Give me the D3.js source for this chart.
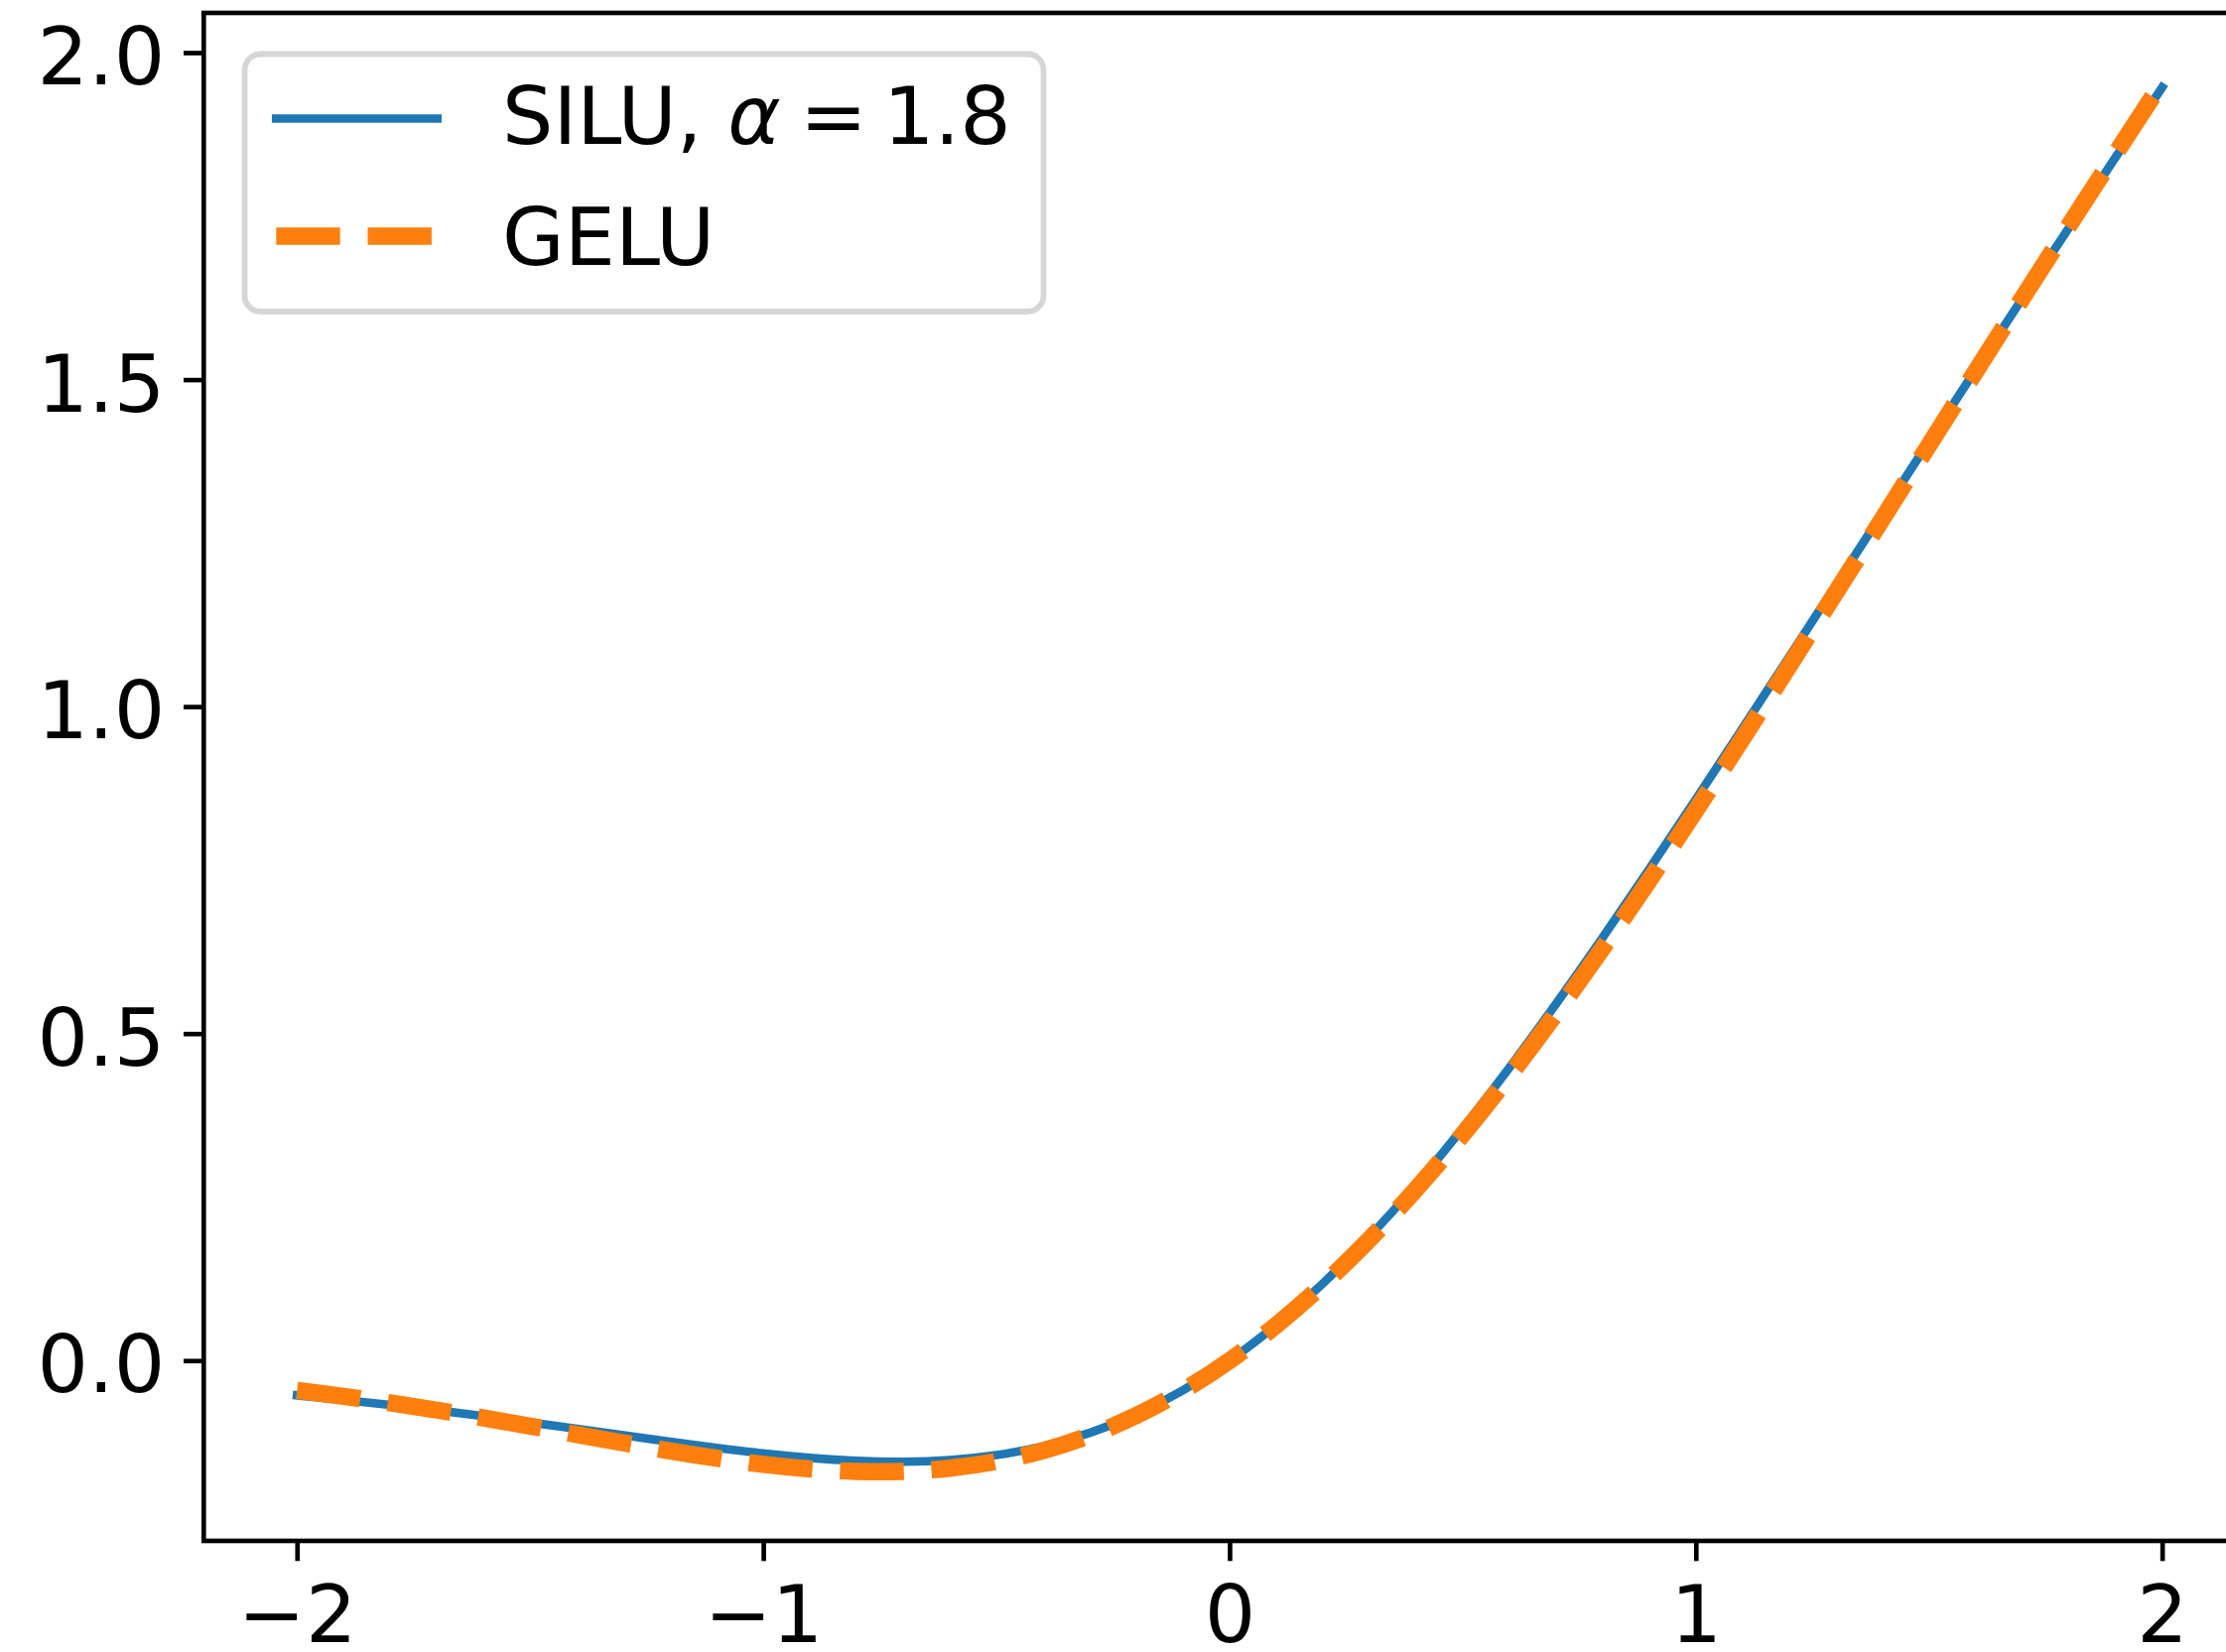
<!DOCTYPE html>
<html>
<head>
<meta charset="utf-8">
<script src="https://cdn.jsdelivr.net/npm/d3@7"></script>
<style>
  html, body { margin: 0; padding: 0; background: #ffffff; overflow: hidden; }
  svg { display: block; }
  text { font-family: "DejaVu Sans", sans-serif; }
</style>
</head>
<body>
<svg id="chart"></svg>
<script>
// Sample grid on [-2, 2]
const xs = [
  -2.0, -1.9, -1.8, -1.7, -1.6, -1.5, -1.4, -1.3, -1.2, -1.1,
  -1.0, -0.9, -0.8, -0.7, -0.6, -0.5, -0.4, -0.3, -0.2, -0.1,
   0.0,  0.1,  0.2,  0.3,  0.4,  0.5,  0.6,  0.7,  0.8,  0.9,
   1.0,  1.1,  1.2,  1.3,  1.4,  1.5,  1.6,  1.7,  1.8,  1.9, 2.0
];

// SiLU with alpha = 1.8
const siluValues = [
  -0.0532, -0.0602, -0.0678, -0.0761, -0.0850, -0.0945, -0.1043, -0.1142, -0.1241, -0.1334,
  -0.1419, -0.1487, -0.1532, -0.1547, -0.1521, -0.1445, -0.1310, -0.1105, -0.0822, -0.0455,
   0.0000,  0.0545,  0.1178,  0.1895,  0.2690,  0.3555,  0.4479,  0.5453,  0.6468,  0.7513,
   0.8581,  0.9666,  1.0759,  1.1858,  1.2957,  1.4055,  1.5150,  1.6239,  1.7322,  1.8398, 1.9468
];

// GELU
const geluValues = [
  -0.0455, -0.0546, -0.0647, -0.0758, -0.0877, -0.1002, -0.1131, -0.1258, -0.1381, -0.1492,
  -0.1587, -0.1657, -0.1695, -0.1694, -0.1646, -0.1543, -0.1378, -0.1146, -0.0841, -0.0460,
   0.0000,  0.0540,  0.1159,  0.1854,  0.2622,  0.3457,  0.4354,  0.5306,  0.6305,  0.7343,
   0.8413,  0.9508,  1.0619,  1.1742,  1.2869,  1.3998,  1.5123,  1.6242,  1.7353,  1.8454, 1.9545
];

const xTickValues = [-2, -1, 0, 1, 2];
const yTickValues = [0.0, 0.5, 1.0, 1.5, 2.0];

const siluLabel = { name: "SILU, ", symbol: "α", relation: "=", value: "1.8" };
const geluLabel = "GELU";

// ---- layout ----
const W = 2243, H = 1665;
const plot = { left: 205.3, right: 2272.6, top: 13, bottom: 1553 };
const FONT = 81;
const PT = 5.8;                      // pixels per point
const COLORS = { silu: "#1f77b4", gelu: "#ff7f0e" };

const svg = d3.select("#chart").attr("width", W).attr("height", H);
svg.append("rect").attr("width", W).attr("height", H).attr("fill", "#ffffff");

// scales with 5% margins around the data
function padded(ext) {
  const m = (ext[1] - ext[0]) * 0.05;
  return [ext[0] - m, ext[1] + m];
}
const x = d3.scaleLinear()
  .domain(padded(d3.extent(xs)))
  .range([plot.left, plot.right]);
const y = d3.scaleLinear()
  .domain(padded(d3.extent(siluValues.concat(geluValues))))
  .range([plot.bottom, plot.top]);

// clip for the curves
svg.append("defs").append("clipPath").attr("id", "plot-clip")
  .append("rect")
  .attr("x", plot.left).attr("y", plot.top)
  .attr("width", plot.right - plot.left).attr("height", plot.bottom - plot.top);

const line = d3.line()
  .x(d => x(d[0]))
  .y(d => y(d[1]))
  .curve(d3.curveNatural);

const curves = svg.append("g").attr("clip-path", "url(#plot-clip)");

curves.append("path")
  .datum(xs.map((v, i) => [v, siluValues[i]]))
  .attr("d", line)
  .attr("fill", "none")
  .attr("stroke", COLORS.silu)
  .attr("stroke-width", 1.5 * PT)
  .attr("stroke-linecap", "square")
  .attr("stroke-linejoin", "round");

const dash = [3.7 * 3 * PT, 1.6 * 3 * PT];
curves.append("path")
  .datum(xs.map((v, i) => [v, geluValues[i]]))
  .attr("d", line)
  .attr("fill", "none")
  .attr("stroke", COLORS.gelu)
  .attr("stroke-width", 3 * PT)
  .attr("stroke-dasharray", dash.join(","))
  .attr("stroke-linecap", "butt")
  .attr("stroke-linejoin", "round");

// ---- axes ----
const spineW = 0.8 * PT;
const tickLen = 3.5 * PT;

const xAxis = d3.axisBottom(x)
  .tickValues(xTickValues)
  .tickFormat(d3.format("d"))
  .tickSize(tickLen)
  .tickSizeOuter(0);

const gx = svg.append("g")
  .attr("transform", `translate(0,${plot.bottom})`)
  .call(xAxis);
gx.select(".domain").remove();
gx.selectAll(".tick line").attr("stroke", "#000").attr("stroke-width", spineW);
gx.selectAll(".tick text")
  .attr("y", 102).attr("dy", 0)
  .attr("fill", "#000")
  .style("font-family", "'DejaVu Sans', sans-serif")
  .style("font-size", FONT + "px");

const yAxis = d3.axisLeft(y)
  .tickValues(yTickValues)
  .tickFormat(d3.format(".1f"))
  .tickSize(tickLen)
  .tickSizeOuter(0);

const gy = svg.append("g")
  .attr("transform", `translate(${plot.left},0)`)
  .call(yAxis);
gy.select(".domain").remove();
gy.selectAll(".tick line").attr("stroke", "#000").attr("stroke-width", spineW);
gy.selectAll(".tick text")
  .attr("x", -39).attr("dy", "0.39em")
  .attr("fill", "#000")
  .style("font-family", "'DejaVu Sans', sans-serif")
  .style("font-size", FONT + "px");

// axes frame
svg.append("rect")
  .attr("x", plot.left).attr("y", plot.top)
  .attr("width", plot.right - plot.left)
  .attr("height", plot.bottom - plot.top)
  .attr("fill", "none")
  .attr("stroke", "#000")
  .attr("stroke-width", spineW);

// ---- legend ----
const lg = svg.append("g");
lg.append("rect")
  .attr("x", 246.5).attr("y", 54.5)
  .attr("width", 805).attr("height", 259.5)
  .attr("rx", 16).attr("ry", 16)
  .attr("fill", "rgba(255,255,255,0.8)")
  .attr("stroke", "rgba(204,204,204,0.8)")
  .attr("stroke-width", 1.0 * PT);

const hx0 = 278.3, hx1 = 440.7;
lg.append("line")
  .attr("x1", hx0).attr("x2", hx1).attr("y1", 119.5).attr("y2", 119.5)
  .attr("stroke", COLORS.silu)
  .attr("stroke-width", 1.5 * PT)
  .attr("stroke-linecap", "square");
lg.append("line")
  .attr("x1", hx0).attr("x2", hx1).attr("y1", 238).attr("y2", 238)
  .attr("stroke", COLORS.gelu)
  .attr("stroke-width", 3 * PT)
  .attr("stroke-dasharray", dash.join(","))
  .attr("stroke-linecap", "butt");

const tx = 506;
const t1 = lg.append("text")
  .attr("x", tx).attr("y", 145)
  .attr("fill", "#000")
  .style("font-size", FONT + "px")
  .attr("xml:space", "preserve");
t1.append("tspan").text(siluLabel.name);
t1.append("tspan").style("font-style", "italic").text(siluLabel.symbol);
t1.append("tspan").attr("x", 806).text(siluLabel.relation);
t1.append("tspan").attr("x", 890).text(siluLabel.value);

lg.append("text")
  .attr("x", tx).attr("y", 266.7)
  .attr("fill", "#000")
  .style("font-size", FONT + "px")
  .text(geluLabel);
</script>
</body>
</html>
